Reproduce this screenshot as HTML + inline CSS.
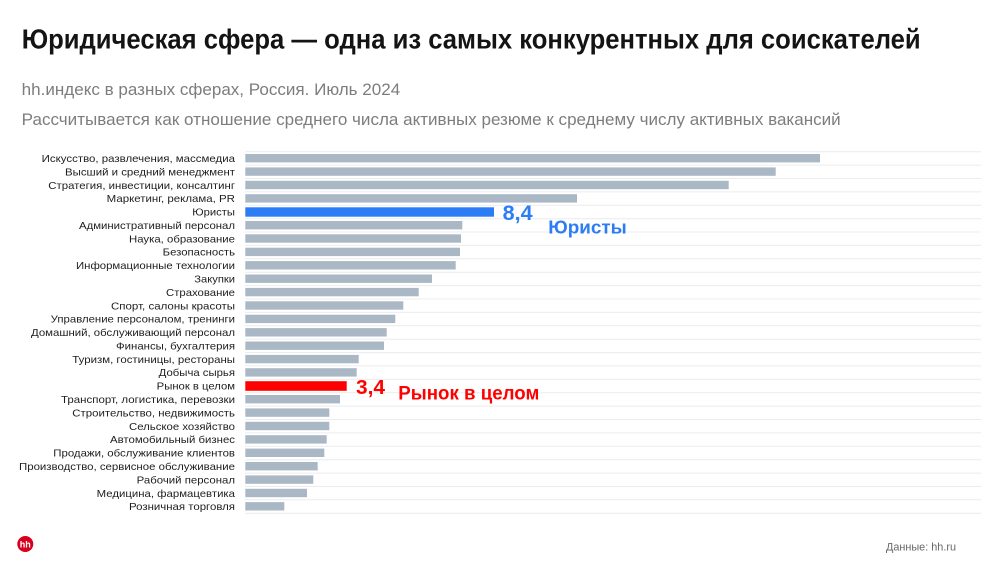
<!DOCTYPE html>
<html>
<head>
<meta charset="utf-8">
<style>
  html,body{margin:0;padding:0;background:#fff;}
  svg{display:block;}
  text{font-family:"Liberation Sans","DejaVu Sans",sans-serif;}
</style>
</head>
<body>
<svg width="1000" height="562" viewBox="0 0 1000 562" xmlns="http://www.w3.org/2000/svg">
  <rect x="0" y="0" width="1000" height="562" fill="#ffffff"/>

  <!-- Title -->
  <text x="21.7" y="48.3" font-size="28" font-weight="bold" fill="#141414" textLength="899" lengthAdjust="spacingAndGlyphs">Юридическая сфера — одна из самых конкурентных для соискателей</text>
  <text x="21.7" y="95" font-size="17" fill="#7d7d7d" textLength="378.5" lengthAdjust="spacingAndGlyphs">hh.индекс в разных сферах, Россия. Июль 2024</text>
  <text x="21.7" y="125" font-size="17" fill="#7d7d7d" textLength="819" lengthAdjust="spacingAndGlyphs">Рассчитывается как отношение среднего числа активных резюме к среднему числу активных вакансий</text>

  <!-- Gridlines -->
  <g stroke="#ececec" stroke-width="1">
    <line x1="245" x2="981" y1="151.7" y2="151.7"/>
    <line x1="245" x2="981" y1="165.1" y2="165.1"/>
    <line x1="245" x2="981" y1="178.5" y2="178.5"/>
    <line x1="245" x2="981" y1="191.9" y2="191.9"/>
    <line x1="245" x2="981" y1="205.3" y2="205.3"/>
    <line x1="245" x2="981" y1="218.7" y2="218.7"/>
    <line x1="245" x2="981" y1="232.0" y2="232.0"/>
    <line x1="245" x2="981" y1="245.4" y2="245.4"/>
    <line x1="245" x2="981" y1="258.8" y2="258.8"/>
    <line x1="245" x2="981" y1="272.2" y2="272.2"/>
    <line x1="245" x2="981" y1="285.6" y2="285.6"/>
    <line x1="245" x2="981" y1="299.0" y2="299.0"/>
    <line x1="245" x2="981" y1="312.4" y2="312.4"/>
    <line x1="245" x2="981" y1="325.8" y2="325.8"/>
    <line x1="245" x2="981" y1="339.2" y2="339.2"/>
    <line x1="245" x2="981" y1="352.6" y2="352.6"/>
    <line x1="245" x2="981" y1="365.9" y2="365.9"/>
    <line x1="245" x2="981" y1="379.3" y2="379.3"/>
    <line x1="245" x2="981" y1="392.7" y2="392.7"/>
    <line x1="245" x2="981" y1="406.1" y2="406.1"/>
    <line x1="245" x2="981" y1="419.5" y2="419.5"/>
    <line x1="245" x2="981" y1="432.9" y2="432.9"/>
    <line x1="245" x2="981" y1="446.3" y2="446.3"/>
    <line x1="245" x2="981" y1="459.7" y2="459.7"/>
    <line x1="245" x2="981" y1="473.1" y2="473.1"/>
    <line x1="245" x2="981" y1="486.5" y2="486.5"/>
    <line x1="245" x2="981" y1="499.8" y2="499.8"/>
    <line x1="245" x2="981" y1="513.2" y2="513.2"/>
  </g>

  <!-- Bars -->
  <g fill="#aab8c6">
    <rect x="245.3" y="154.0" width="574.7" height="8.4"/>
    <rect x="245.3" y="167.4" width="530.4" height="8.4"/>
    <rect x="245.3" y="180.8" width="483.4" height="8.4"/>
    <rect x="245.3" y="194.2" width="331.7" height="8.4"/>
    <rect x="245.3" y="221.0" width="217.0" height="8.4"/>
    <rect x="245.3" y="234.3" width="215.7" height="8.4"/>
    <rect x="245.3" y="247.7" width="214.7" height="8.4"/>
    <rect x="245.3" y="261.1" width="210.4" height="8.4"/>
    <rect x="245.3" y="274.5" width="186.7" height="8.4"/>
    <rect x="245.3" y="287.9" width="173.4" height="8.4"/>
    <rect x="245.3" y="301.3" width="158.0" height="8.4"/>
    <rect x="245.3" y="314.7" width="150.0" height="8.4"/>
    <rect x="245.3" y="328.1" width="141.4" height="8.4"/>
    <rect x="245.3" y="341.5" width="138.7" height="8.4"/>
    <rect x="245.3" y="354.9" width="113.4" height="8.4"/>
    <rect x="245.3" y="368.2" width="111.4" height="8.4"/>
    <rect x="245.3" y="395.0" width="94.7" height="8.4"/>
    <rect x="245.3" y="408.4" width="84.0" height="8.4"/>
    <rect x="245.3" y="421.8" width="84.0" height="8.4"/>
    <rect x="245.3" y="435.2" width="81.4" height="8.4"/>
    <rect x="245.3" y="448.6" width="79.0" height="8.4"/>
    <rect x="245.3" y="462.0" width="72.4" height="8.4"/>
    <rect x="245.3" y="475.4" width="68.0" height="8.4"/>
    <rect x="245.3" y="488.8" width="61.7" height="8.4"/>
    <rect x="245.3" y="502.1" width="39.0" height="8.4"/>
  </g>
  <rect x="245.3" y="207.3" width="248.7" height="9.4" fill="#2c7cf6"/>
  <rect x="245.3" y="381.2" width="101.4" height="9.6" fill="#ff0000"/>

  <!-- Labels -->
  <g font-size="10.5" fill="#1e1e1e" text-anchor="end">
    <text x="235" y="162.0" textLength="193.3" lengthAdjust="spacingAndGlyphs">Искусство, развлечения, массмедиа</text>
    <text x="235" y="175.4" textLength="170" lengthAdjust="spacingAndGlyphs">Высший и средний менеджмент</text>
    <text x="235" y="188.8" textLength="186.7" lengthAdjust="spacingAndGlyphs">Стратегия, инвестиции, консалтинг</text>
    <text x="235" y="202.2" textLength="128.3" lengthAdjust="spacingAndGlyphs">Маркетинг, реклама, PR</text>
    <text x="235" y="215.6" textLength="42.7" lengthAdjust="spacingAndGlyphs">Юристы</text>
    <text x="235" y="229.0" textLength="156" lengthAdjust="spacingAndGlyphs">Административный персонал</text>
    <text x="235" y="242.3" textLength="106" lengthAdjust="spacingAndGlyphs">Наука, образование</text>
    <text x="235" y="255.7" textLength="72.3" lengthAdjust="spacingAndGlyphs">Безопасность</text>
    <text x="235" y="269.1" textLength="159" lengthAdjust="spacingAndGlyphs">Информационные технологии</text>
    <text x="235" y="282.5" textLength="40.7" lengthAdjust="spacingAndGlyphs">Закупки</text>
    <text x="235" y="295.9" textLength="69" lengthAdjust="spacingAndGlyphs">Страхование</text>
    <text x="235" y="309.3" textLength="124" lengthAdjust="spacingAndGlyphs">Спорт, салоны красоты</text>
    <text x="235" y="322.7" textLength="184.3" lengthAdjust="spacingAndGlyphs">Управление персоналом, тренинги</text>
    <text x="235" y="336.1" textLength="204" lengthAdjust="spacingAndGlyphs">Домашний, обслуживающий персонал</text>
    <text x="235" y="349.5" textLength="119" lengthAdjust="spacingAndGlyphs">Финансы, бухгалтерия</text>
    <text x="235" y="362.9" textLength="162.7" lengthAdjust="spacingAndGlyphs">Туризм, гостиницы, рестораны</text>
    <text x="235" y="376.2" textLength="76.3" lengthAdjust="spacingAndGlyphs">Добыча сырья</text>
    <text x="235" y="389.6" textLength="78.3" lengthAdjust="spacingAndGlyphs">Рынок в целом</text>
    <text x="235" y="403.0" textLength="174" lengthAdjust="spacingAndGlyphs">Транспорт, логистика, перевозки</text>
    <text x="235" y="416.4" textLength="162.7" lengthAdjust="spacingAndGlyphs">Строительство, недвижимость</text>
    <text x="235" y="429.8" textLength="106" lengthAdjust="spacingAndGlyphs">Сельское хозяйство</text>
    <text x="235" y="443.2" textLength="125" lengthAdjust="spacingAndGlyphs">Автомобильный бизнес</text>
    <text x="235" y="456.6" textLength="181.7" lengthAdjust="spacingAndGlyphs">Продажи, обслуживание клиентов</text>
    <text x="235" y="470.0" textLength="216" lengthAdjust="spacingAndGlyphs">Производство, сервисное обслуживание</text>
    <text x="235" y="483.4" textLength="98.3" lengthAdjust="spacingAndGlyphs">Рабочий персонал</text>
    <text x="235" y="496.8" textLength="138.3" lengthAdjust="spacingAndGlyphs">Медицина, фармацевтика</text>
    <text x="235" y="510.1" textLength="106" lengthAdjust="spacingAndGlyphs">Розничная торговля</text>
  </g>

  <!-- Annotations -->
  <text x="502.7" y="220" font-size="21" font-weight="bold" fill="#2c7cf6" textLength="30" lengthAdjust="spacingAndGlyphs">8,4</text>
  <text x="548.3" y="233.5" font-size="18" font-weight="bold" fill="#2c7cf6" textLength="78.4" lengthAdjust="spacingAndGlyphs">Юристы</text>
  <text x="356" y="394" font-size="20" font-weight="bold" fill="#ff0000" textLength="29" lengthAdjust="spacingAndGlyphs">3,4</text>
  <text x="398.3" y="399.3" font-size="19" font-weight="bold" fill="#ff0000" textLength="141" lengthAdjust="spacingAndGlyphs">Рынок в целом</text>

  <!-- Footer -->
  <circle cx="25.3" cy="544" r="8" fill="#d6001c"/>
  <text x="25.3" y="547.6" font-size="9.5" font-weight="bold" fill="#ffffff" text-anchor="middle" textLength="11" lengthAdjust="spacingAndGlyphs">hh</text>
  <text x="886" y="550.7" font-size="11" fill="#666666" textLength="70" lengthAdjust="spacingAndGlyphs">Данные: hh.ru</text>
</svg>
</body>
</html>
